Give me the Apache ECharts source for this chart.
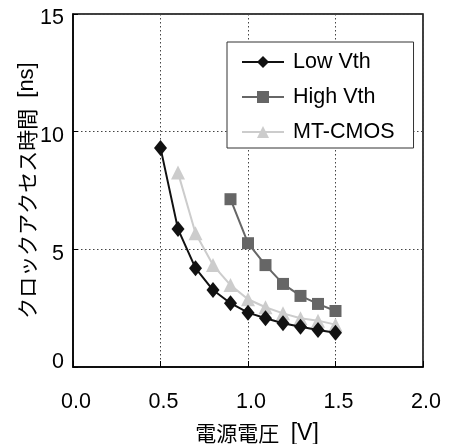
<!DOCTYPE html>
<html><head><meta charset="utf-8">
<script src="https://cdn.jsdelivr.net/npm/echarts@6/dist/echarts.min.js"></script>
<style>html,body{margin:0;padding:0;background:#fff}#c{width:452px;height:444px}</style>
</head><body><div id="c"></div>
<script>
var lowX = [0.5,0.6,0.7,0.8,0.9,1.0,1.1,1.2,1.3,1.4,1.5];
var lowY = [9.31,5.86,4.2,3.27,2.71,2.31,2.07,1.86,1.71,1.57,1.46];
var highX = [0.9,1.0,1.1,1.2,1.3,1.4,1.5];
var highY = [7.13,5.26,4.33,3.53,3.02,2.68,2.38];
var mtX = [0.6,0.7,0.8,0.9,1.0,1.1,1.2,1.3,1.4,1.5];
var mtY = [8.26,5.68,4.33,3.48,2.88,2.54,2.28,2.07,1.97,1.8];
var seriesNames = ['Low Vth','High Vth','MT-CMOS'];
var xNameMain = '電源電圧', xNameUnit = '[V]';
var yNameMain = 'クロックアクセス時間', yNameUnit = '[ns]';

function pairs(xs, ys){ return xs.map(function(x,i){ return [x, ys[i]]; }); }
var font = 'Liberation Sans, Arial, sans-serif';
var cjk = 'Noto Sans CJK JP, sans-serif';
var chart = echarts.init(document.getElementById('c'), null, {renderer:'canvas'});
chart.setOption({
  animation:false,
  backgroundColor:'#fff',
  textStyle:{fontFamily:font},
  grid:{left:73,right:29,top:14,bottom:77,containLabel:false,outerBoundsMode:'none',
    show:true,borderColor:'#000',borderWidth:1.5,backgroundColor:'transparent'},
  legend:{
    orient:'vertical', left:227, top:42, data:seriesNames,
    backgroundColor:'#fff', borderColor:'#333', borderWidth:1,
    padding:[9,19,5,14], itemGap:13, itemWidth:42, itemHeight:15,
    textStyle:{fontSize:21.5,color:'#000',fontFamily:font,padding:[0,0,0,4]}
  },
  xAxis:{type:'value',min:0,max:2,interval:0.5,
    name:'{a|'+xNameMain+'}{b|\u2002'+xNameUnit+'}',nameLocation:'middle',nameGap:55,nameMoveOverlap:false,
    nameTextStyle:{color:'#000',padding:[0,0,0,18],
      rich:{a:{fontSize:21,fontFamily:cjk,color:'#000'},b:{fontSize:23,fontFamily:font,color:'#000'}}},
    axisLine:{show:true,lineStyle:{color:'#000',width:1.5}},
    axisTick:{show:true,inside:true,length:6,lineStyle:{color:'#000'}},
    axisLabel:{fontSize:21.5,color:'#000',margin:24,padding:[0,0,0,6],formatter:function(v){return v.toFixed(1);}},
    splitLine:{show:true,lineStyle:{color:'#444',width:1,type:[1.5,2.5]}}
  },
  yAxis:{type:'value',min:0,max:15,interval:5,
    name:'{a|'+yNameMain+'}{b|\u2002'+yNameUnit+'}',nameLocation:'middle',nameGap:35,nameMoveOverlap:false,
    nameTextStyle:{color:'#000',
      rich:{a:{fontSize:21,fontFamily:cjk,color:'#000'},b:{fontSize:22,fontFamily:font,color:'#000'}}},
    axisLine:{show:true,lineStyle:{color:'#000',width:1.5}},
    axisTick:{show:true,inside:true,length:5,lineStyle:{color:'#000'}},
    axisLabel:{color:'#000',margin:9,
      formatter:function(v){ return v===0 ? '{u|'+v+'}' : '{d|'+v+'}'; },
      rich:{u:{fontSize:21.5,fontFamily:font,color:'#000',padding:[0,0,10,0]},
            d:{fontSize:21.5,fontFamily:font,color:'#000',padding:[9,0,0,0]}}},
    splitLine:{show:true,lineStyle:{color:'#444',width:1,type:[1.5,2.5]}}
  },
  series:[
    {name:seriesNames[2],type:'line',data:pairs(mtX,mtY),symbol:'triangle',symbolSize:14,
      lineStyle:{color:'#cccccc',width:2},itemStyle:{color:'#cccccc'},z:2},
    {name:seriesNames[1],type:'line',data:pairs(highX,highY),symbol:'rect',symbolSize:12,
      lineStyle:{color:'#666666',width:2},itemStyle:{color:'#666666'},z:3},
    {name:seriesNames[0],type:'line',data:pairs(lowX,lowY),symbol:'diamond',symbolSize:[13,16],
      lineStyle:{color:'#111111',width:2},itemStyle:{color:'#111111'},z:4}
  ]
});
</script></body></html>
